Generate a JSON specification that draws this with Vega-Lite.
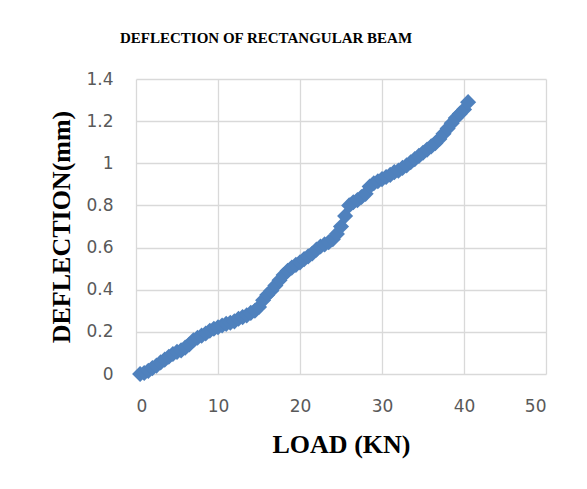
{
  "$schema": "https://vega.github.io/schema/vega-lite/v6.json",
  "autosize": {"type": "none"},
  "width": 410,
  "height": 295,
  "padding": {"left": 136, "top": 79, "right": 41, "bottom": 115},
  "background": "white",
  "config": {"view": {"stroke": null}},
  "title": {
    "text": "DEFLECTION OF RECTANGULAR BEAM",
    "font": "Liberation Serif",
    "fontSize": 15,
    "fontWeight": "bold",
    "color": "#000000",
    "anchor": "middle",
    "frame": "group",
    "dx": -75,
    "baseline": "alphabetic",
    "offset": 12
  },
  "data": {
    "values": [
      {"load": 0.5, "defl": 0.000}, {"load": 1.0, "defl": 0.005}, {"load": 1.5, "defl": 0.015},
      {"load": 2.0, "defl": 0.028}, {"load": 2.5, "defl": 0.040}, {"load": 3.0, "defl": 0.055},
      {"load": 3.5, "defl": 0.068}, {"load": 4.0, "defl": 0.082}, {"load": 4.5, "defl": 0.095},
      {"load": 5.0, "defl": 0.105}, {"load": 5.5, "defl": 0.112}, {"load": 6.0, "defl": 0.125},
      {"load": 6.5, "defl": 0.140}, {"load": 7.0, "defl": 0.160}, {"load": 7.5, "defl": 0.172},
      {"load": 8.0, "defl": 0.182}, {"load": 8.5, "defl": 0.192}, {"load": 9.0, "defl": 0.205},
      {"load": 9.5, "defl": 0.215}, {"load": 10.0, "defl": 0.222}, {"load": 10.5, "defl": 0.230},
      {"load": 11.0, "defl": 0.238}, {"load": 11.5, "defl": 0.243}, {"load": 12.0, "defl": 0.250},
      {"load": 12.5, "defl": 0.262}, {"load": 13.0, "defl": 0.270}, {"load": 13.5, "defl": 0.278},
      {"load": 14.0, "defl": 0.290}, {"load": 14.5, "defl": 0.300}, {"load": 15.0, "defl": 0.318},
      {"load": 15.5, "defl": 0.350}, {"load": 16.0, "defl": 0.375}, {"load": 16.5, "defl": 0.395},
      {"load": 17.0, "defl": 0.420}, {"load": 17.5, "defl": 0.445}, {"load": 18.0, "defl": 0.470},
      {"load": 18.5, "defl": 0.490}, {"load": 19.0, "defl": 0.505}, {"load": 19.5, "defl": 0.518},
      {"load": 20.0, "defl": 0.530}, {"load": 20.5, "defl": 0.545}, {"load": 21.0, "defl": 0.558},
      {"load": 21.5, "defl": 0.572}, {"load": 22.0, "defl": 0.590}, {"load": 22.5, "defl": 0.605},
      {"load": 23.0, "defl": 0.615}, {"load": 23.5, "defl": 0.625}, {"load": 24.0, "defl": 0.640},
      {"load": 24.5, "defl": 0.665}, {"load": 25.0, "defl": 0.700}, {"load": 25.5, "defl": 0.750},
      {"load": 26.0, "defl": 0.800}, {"load": 26.5, "defl": 0.815}, {"load": 27.0, "defl": 0.825},
      {"load": 27.5, "defl": 0.840}, {"load": 28.0, "defl": 0.855}, {"load": 28.5, "defl": 0.890},
      {"load": 29.0, "defl": 0.905}, {"load": 29.5, "defl": 0.915}, {"load": 30.0, "defl": 0.925},
      {"load": 30.5, "defl": 0.935}, {"load": 31.0, "defl": 0.945}, {"load": 31.5, "defl": 0.958},
      {"load": 32.0, "defl": 0.965}, {"load": 32.5, "defl": 0.978}, {"load": 33.0, "defl": 0.990},
      {"load": 33.5, "defl": 1.005}, {"load": 34.0, "defl": 1.020}, {"load": 34.5, "defl": 1.035},
      {"load": 35.0, "defl": 1.050}, {"load": 35.5, "defl": 1.065}, {"load": 36.0, "defl": 1.080},
      {"load": 36.5, "defl": 1.095}, {"load": 37.0, "defl": 1.115}, {"load": 37.5, "defl": 1.140},
      {"load": 38.0, "defl": 1.165}, {"load": 38.5, "defl": 1.190}, {"load": 39.0, "defl": 1.215},
      {"load": 39.5, "defl": 1.235}, {"load": 40.0, "defl": 1.255}, {"load": 40.5, "defl": 1.290}
    ]
  },
  "encoding": {
    "x": {
      "field": "load",
      "type": "quantitative",
      "scale": {"domain": [0, 50], "nice": false, "zero": false},
      "axis": {
        "values": [0, 10, 20, 30, 40, 50],
        "grid": true,
        "gridColor": "#d9d9d9",
        "gridWidth": 1.3,
        "domain": false,
        "ticks": false,
        "labelFont": "DejaVu Sans",
        "labelFontSize": 17,
        "labelColor": "#595959",
        "labelPadding": 24,
        "title": "LOAD (KN)",
        "titleFont": "Liberation Serif",
        "titleFontSize": 26,
        "titleFontWeight": "bold",
        "titleColor": "#000000",
        "titleBaseline": "alphabetic",
        "titleY": 78
      }
    },
    "y": {
      "field": "defl",
      "type": "quantitative",
      "scale": {"domain": [0, 1.4], "nice": false},
      "axis": {
        "values": [0, 0.2, 0.4, 0.6, 0.8, 1, 1.2, 1.4],
        "format": "~g",
        "grid": true,
        "gridColor": "#d9d9d9",
        "gridWidth": 1.3,
        "domain": false,
        "ticks": false,
        "labelFont": "DejaVu Sans",
        "labelFontSize": 17,
        "labelColor": "#595959",
        "labelPadding": 23,
        "title": "DEFLECTION(mm)",
        "titleFont": "Liberation Serif",
        "titleFontSize": 26,
        "titleFontWeight": "bold",
        "titleColor": "#000000",
        "titleAngle": -90,
        "titleBaseline": "middle",
        "titleAlign": "center",
        "titleX": -75,
        "titleY": 147.5
      }
    }
  },
  "layer": [
    {"mark": {"type": "line", "color": "#4F81BD", "strokeWidth": 3}},
    {"mark": {"type": "point", "shape": "diamond", "filled": true, "color": "#4F81BD", "opacity": 1, "size": 260}}
  ]
}
